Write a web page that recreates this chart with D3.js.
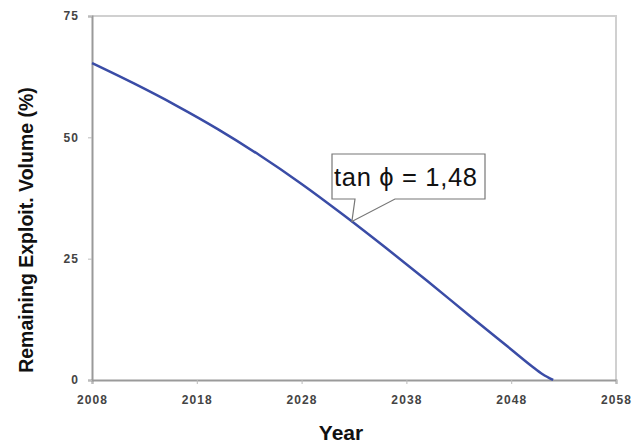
<!DOCTYPE html>
<html>
<head>
<meta charset="utf-8">
<script src="https://cdn.jsdelivr.net/npm/d3@7"></script>
<style>
  html, body { margin: 0; padding: 0; background: #fff; }
  svg { display: block; font-family: "Liberation Sans", Arial, sans-serif; }
</style>
</head>
<body>
<svg id="chart" width="640" height="444"></svg>
<script>
// Remaining exploitable volume over time
const years  = [2008, 2012, 2016, 2020, 2024, 2028, 2032, 2036, 2040, 2044, 2048, 2050, 2051, 2052];
const volume = [65.3, 61.1, 56.6, 51.7, 46.3, 40.4, 34.0, 27.3, 20.4, 13.3, 6.3, 2.8, 1.2, 0];

const xTicks = [2008, 2018, 2028, 2038, 2048, 2058];
const yTicks = [0, 25, 50, 75];

const annotationText = "tan \u03D5 = 1,48";
const annotationYear = 2032.8;

const svg = d3.select("#chart");
const margin = { left: 92, right: 24, top: 16, bottom: 64 };
const W = 640, H = 444;

const x = d3.scaleLinear().domain([2008, 2058]).range([margin.left, W - margin.right]);
const y = d3.scaleLinear().domain([0, 75]).range([H - margin.bottom, margin.top]);

// frame: light top/right borders
svg.append("path")
  .attr("d", `M${x(2008)},${y(75)}H${x(2058)}V${y(0)}`)
  .attr("fill", "none").attr("stroke", "#d0d0d0").attr("stroke-width", 2);

// x axis
const xAxis = svg.append("g")
  .attr("transform", `translate(0,${y(0)})`)
  .call(d3.axisBottom(x).tickValues(xTicks).tickFormat(d3.format("d")).tickSize(4).tickPadding(11));
xAxis.select(".domain").attr("stroke", "#9a9a9a").attr("stroke-width", 2);
xAxis.selectAll(".tick line").attr("stroke", "#bbb");
xAxis.selectAll("text").attr("font-size", 12).attr("font-weight", "bold").attr("fill", "#444")
  .attr("letter-spacing", 1.1);

// y axis
const yAxis = svg.append("g")
  .attr("transform", `translate(${x(2008)},0)`)
  .call(d3.axisLeft(y).tickValues(yTicks).tickSize(4).tickPadding(9));
yAxis.select(".domain").attr("stroke", "#9a9a9a").attr("stroke-width", 2);
yAxis.selectAll(".tick line").attr("stroke", "#bbb");
yAxis.selectAll("text").attr("font-size", 12).attr("font-weight", "bold").attr("fill", "#444")
  .attr("letter-spacing", 1.1);

// axis titles
svg.append("text")
  .attr("x", 341).attr("y", 440)
  .attr("text-anchor", "middle").attr("font-size", 21).attr("font-weight", "bold").attr("fill", "#111")
  .text("Year");
svg.append("text")
  .attr("transform", `translate(33,230) rotate(-90)`)
  .attr("text-anchor", "middle").attr("font-size", 19.5).attr("font-weight", "bold").attr("fill", "#111")
  .text("Remaining Exploit. Volume (%)");

// curve
const data = years.map((yr, i) => ({ yr, v: volume[i] }));
const line = d3.line().x(d => x(d.yr)).y(d => y(d.v)).curve(d3.curveMonotoneX);
svg.append("path")
  .datum(data)
  .attr("d", line)
  .attr("fill", "none").attr("stroke", "#3a4ca6").attr("stroke-width", 2.5);

// callout pointing at the curve
const interp = d3.scaleLinear().domain(years).range(volume);
const px = x(annotationYear), py = y(interp(annotationYear));
const bx0 = 332, bx1 = 485, by0 = 154, by1 = 199;
svg.append("path")
  .attr("d", `M${bx0},${by0}H${bx1}V${by1}H395L${px},${py}L355,${by1}H${bx0}Z`)
  .attr("fill", "#fff").attr("stroke", "#777").attr("stroke-width", 1.2);
svg.append("text")
  .attr("x", bx0 + 2).attr("y", 186)
  .attr("font-size", 25.5).attr("fill", "#111")
  .attr("textLength", 143).attr("lengthAdjust", "spacing")
  .text(annotationText);
</script>
</body>
</html>
